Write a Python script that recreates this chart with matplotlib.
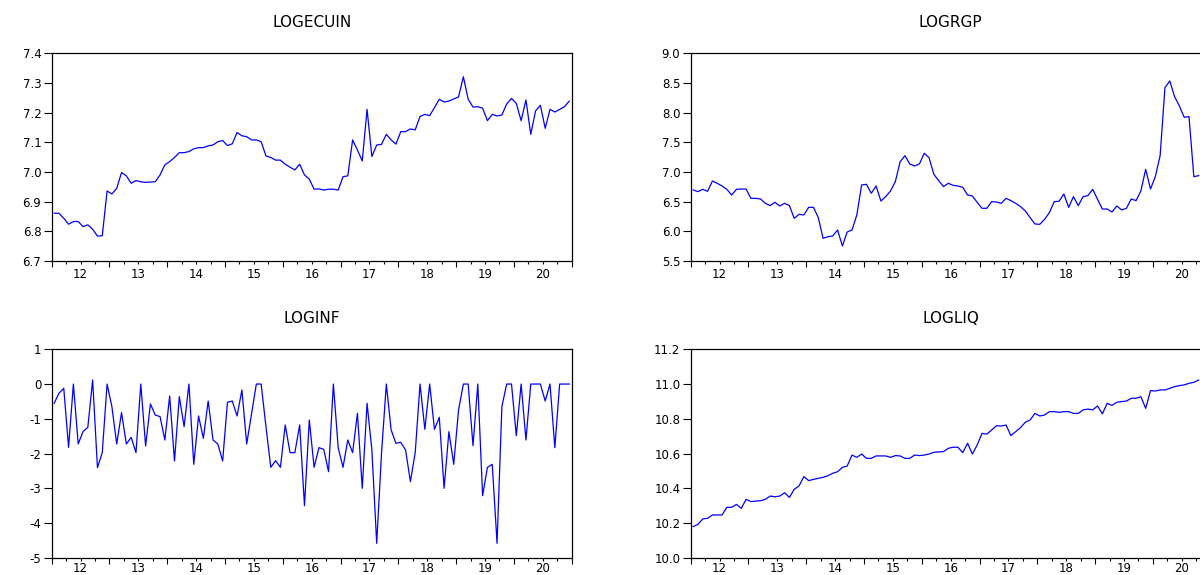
import matplotlib
matplotlib.use("Agg")
import matplotlib.pyplot as plt
import matplotlib.transforms as mtransforms
import numpy as np

plt.rcParams['font.family'] = ['DejaVu Sans']

# monthly series, 2012M01 onwards
logecuin = [6.861, 6.861, 6.844, 6.824, 6.833, 6.833, 6.816, 6.822, 6.807, 6.784, 6.785, 6.936,
            6.926, 6.945, 6.998, 6.987, 6.962, 6.971, 6.967, 6.965, 6.966, 6.967, 6.990, 7.024,
            7.035, 7.049, 7.065, 7.065, 7.069, 7.078, 7.082, 7.082, 7.088, 7.091, 7.102, 7.106,
            7.089, 7.095, 7.133, 7.122, 7.119, 7.108, 7.108, 7.102, 7.054, 7.049, 7.040, 7.040,
            7.026, 7.016, 7.007, 7.026, 6.990, 6.976, 6.942, 6.943, 6.939, 6.942, 6.942, 6.939,
            6.984, 6.987, 7.108, 7.074, 7.037, 7.211, 7.052, 7.091, 7.093, 7.127, 7.108, 7.094,
            7.136, 7.136, 7.145, 7.142, 7.187, 7.194, 7.190, 7.217, 7.245, 7.236, 7.239, 7.246,
            7.253, 7.321, 7.245, 7.219, 7.220, 7.215, 7.173, 7.194, 7.189, 7.192, 7.229, 7.248,
            7.231, 7.173, 7.243, 7.127, 7.206, 7.225, 7.147, 7.211, 7.202, 7.211, 7.220, 7.239]

logrgp = [6.697, 6.669, 6.708, 6.674, 6.848, 6.809, 6.764, 6.708, 6.612, 6.708, 6.713, 6.713,
          6.556, 6.556, 6.545, 6.472, 6.433, 6.489, 6.427, 6.472, 6.433, 6.219, 6.287, 6.275,
          6.404, 6.404, 6.230, 5.882, 5.910, 5.921, 6.022, 5.753, 5.989, 6.022, 6.275, 6.781,
          6.792, 6.640, 6.764, 6.511, 6.584, 6.680, 6.837, 7.174, 7.275, 7.135, 7.101, 7.135,
          7.315, 7.242, 6.961, 6.854, 6.753, 6.809, 6.775, 6.764, 6.742, 6.612, 6.596, 6.489,
          6.388, 6.388, 6.500, 6.494, 6.472, 6.556, 6.517, 6.472, 6.416, 6.343, 6.230, 6.124,
          6.118, 6.202, 6.315, 6.500, 6.506, 6.629, 6.404, 6.584, 6.433, 6.584, 6.601, 6.708,
          6.539, 6.376, 6.376, 6.326, 6.427, 6.360, 6.388, 6.545, 6.517, 6.680, 7.045, 6.713,
          6.921, 7.275, 8.421, 8.534, 8.270, 8.112, 7.921, 7.933, 6.921, 6.938]

loginf = [-0.555, -0.267, -0.123, -1.822, 0.0, -1.726, -1.371, -1.246, 0.117, -2.408, -1.976, 0.0,
          -0.651, -1.726, -0.824, -1.726, -1.534, -1.976, 0.0, -1.784, -0.574, -0.891, -0.939, -1.611,
          -0.344, -2.216, -0.363, -1.227, 0.0, -2.312, -0.920, -1.563, -0.488, -1.611, -1.726, -2.216,
          -0.526, -0.488, -0.920, -0.171, -1.726, -0.862, 0.0, 0.0, -1.227, -2.398, -2.206, -2.398,
          -1.179, -1.976, -1.976, -1.179, -3.502, -1.035, -2.398, -1.832, -1.880, -2.523, 0.0, -1.832,
          -2.398, -1.611, -1.976, -0.843, -3.003, -0.555, -1.899, -4.587, -2.000, 0.0, -1.323, -1.707,
          -1.678, -1.899, -2.811, -1.976, 0.0, -1.304, 0.0, -1.304, -0.958, -3.003, -1.371, -2.312,
          -0.747, 0.0, 0.0, -1.774, 0.0, -3.214, -2.398, -2.312, -4.587, -0.651, 0.0, 0.0,
          -1.486, 0.0, -1.611, 0.0, 0.0, 0.0, -0.488, 0.0, -1.832, 0.0, 0.0, 0.0]

logliq = [10.179, 10.192, 10.223, 10.227, 10.246, 10.246, 10.246, 10.290, 10.290, 10.307, 10.284, 10.336,
          10.323, 10.326, 10.328, 10.336, 10.355, 10.351, 10.355, 10.374, 10.347, 10.394, 10.413, 10.467,
          10.444, 10.451, 10.457, 10.463, 10.472, 10.486, 10.495, 10.520, 10.528, 10.591, 10.578, 10.597,
          10.572, 10.572, 10.586, 10.586, 10.586, 10.578, 10.588, 10.586, 10.572, 10.572, 10.591, 10.588,
          10.591, 10.597, 10.607, 10.609, 10.611, 10.630, 10.636, 10.636, 10.605, 10.659, 10.597, 10.649,
          10.716, 10.712, 10.735, 10.760, 10.758, 10.764, 10.703, 10.726, 10.749, 10.780, 10.793, 10.831,
          10.816, 10.822, 10.841, 10.841, 10.837, 10.841, 10.841, 10.831, 10.831, 10.851, 10.856, 10.851,
          10.874, 10.828, 10.889, 10.877, 10.895, 10.899, 10.902, 10.918, 10.918, 10.927, 10.860, 10.962,
          10.960, 10.966, 10.966, 10.975, 10.985, 10.991, 10.995, 11.004, 11.010, 11.023]

year_labels = ['12', '13', '14', '15', '16', '17', '18', '19', '20']

# title, data, y range, y ticks, tick format, axes rect, year label offset
panels = [
    ('LOGECUIN', logecuin, (6.7, 7.4), np.arange(6.7, 7.41, 0.1), '%.1f', [0.0431, 0.5461, 0.4333, 0.3612], -0.067),
    ('LOGRGP', logrgp, (5.5, 9.0), np.arange(5.5, 9.01, 0.5), '%.1f', [0.5756, 0.5461, 0.4333, 0.3612], -0.067),
    ('LOGINF', loginf, (-5, 1), np.arange(-5, 1.01, 1), '%d', [0.0431, 0.0301, 0.4333, 0.3624], -0.054),
    ('LOGLIQ', logliq, (10.0, 11.2), np.arange(10.0, 11.21, 0.2), '%.1f', [0.5756, 0.0301, 0.4333, 0.3624], -0.054),
]

fig = plt.figure(figsize=(12, 5.75), dpi=100)

for title, vals, ylim, yticks, fmt, pos, yoff in panels:
    ax = fig.add_axes(pos)
    t = 2012 + (np.arange(len(vals)) + 0.5) / 12.0
    ax.plot(t, vals, color='#0000ff', lw=0.9)
    ax.set_xlim(2012, 2021)
    ax.set_ylim(*ylim)
    ax.set_yticks(yticks)
    ax.set_yticklabels([fmt % v for v in yticks], fontsize=8.5)
    ax.set_xticks(np.arange(2012, 2022))
    ax.set_xticks(np.arange(2012, 2021.01, 0.25), minor=True)
    ax.set_xticklabels([])
    ax.tick_params(axis='x', which='major', length=4, width=0.8, direction='out')
    ax.tick_params(axis='x', which='minor', length=2.2, width=0.8, direction='out')
    ax.tick_params(axis='y', which='major', length=5.5, width=0.8, direction='out', pad=2)
    for s in ax.spines.values():
        s.set_linewidth(0.9)
    trans = mtransforms.blended_transform_factory(ax.transData, ax.transAxes)
    for k, lab in enumerate(year_labels):
        ax.text(2012.5 + k, yoff, lab, transform=trans, ha='center', va='center', fontsize=8.5)
    ax.set_title(title, fontsize=11, pad=19)

fig.savefig('out.png', dpi=100)
